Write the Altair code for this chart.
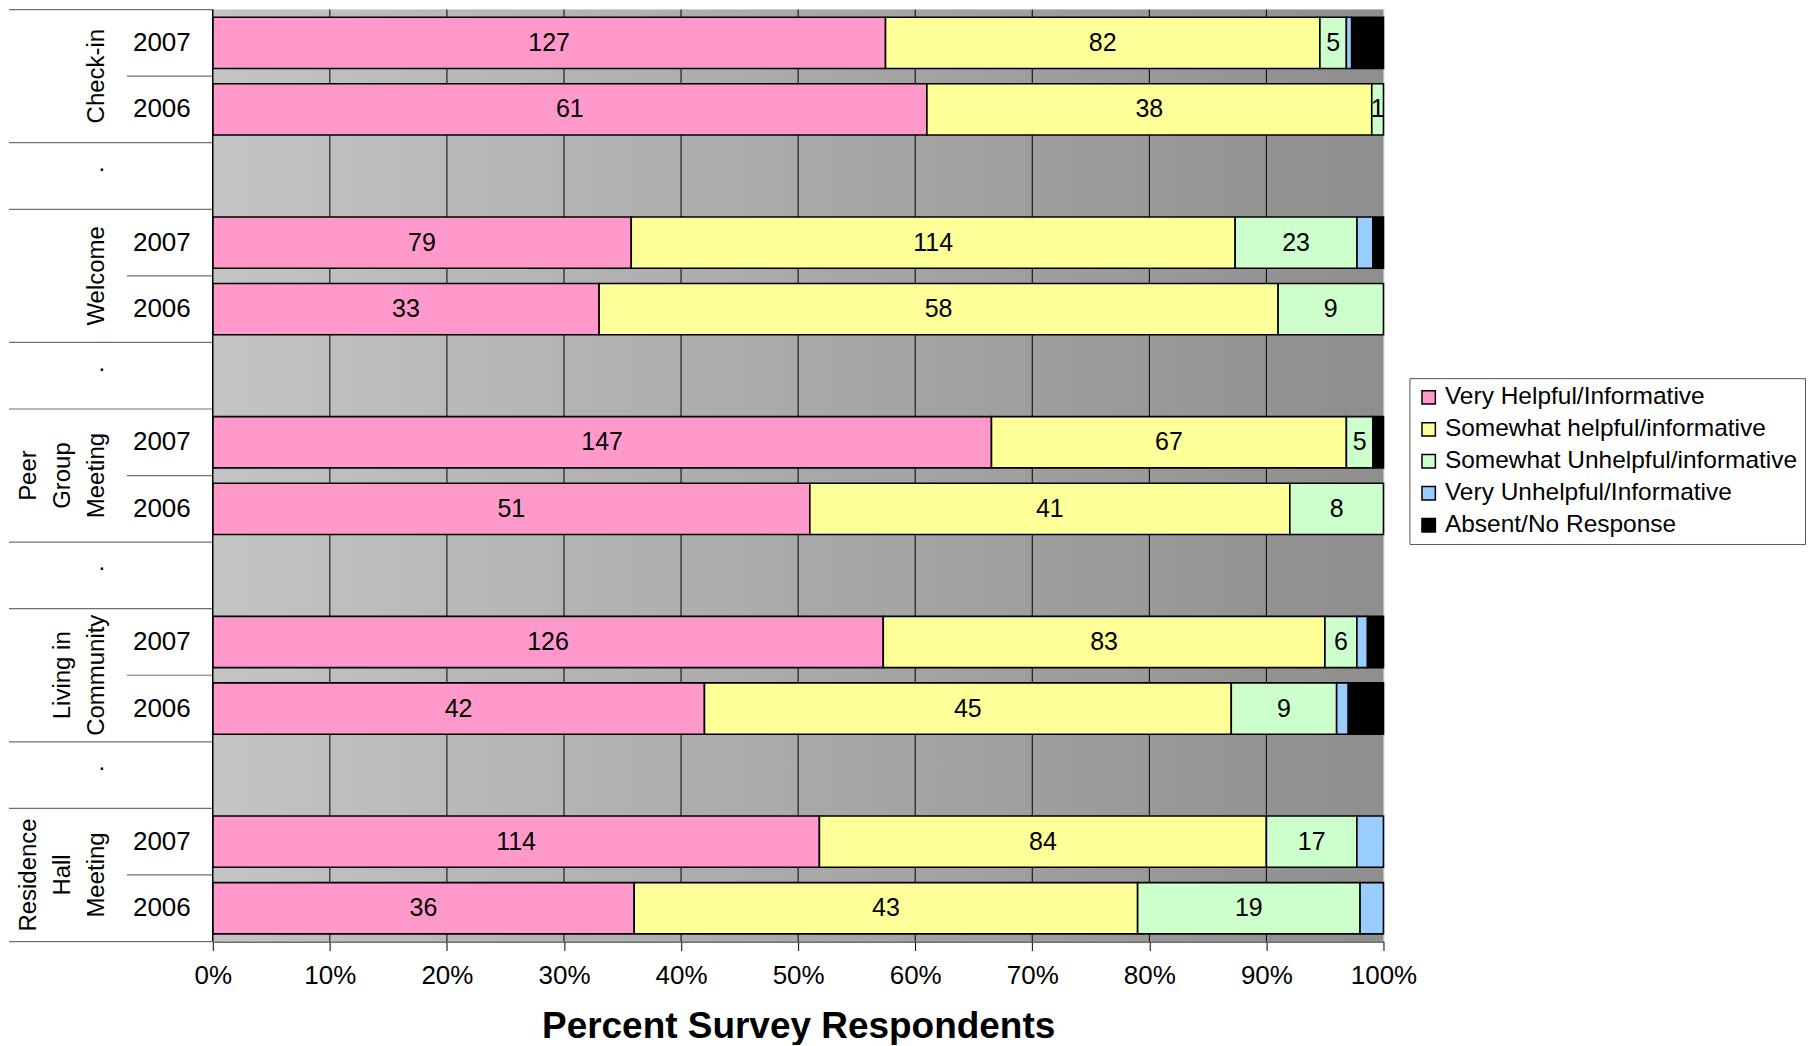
import altair as alt
import pandas as pd

# ---------------- data ----------------
groups = ["Check-in", "Welcome", "Peer Group Meeting", "Living in Community", "Residence Hall Meeting"]
group_labels = ["Check-in", "Welcome", "Peer\nGroup\nMeeting", "Living in\nCommunity", "Residence\nHall\nMeeting"]
years = ["2007", "2006"]
categories = ["Very Helpful/Informative", "Somewhat helpful/informative",
              "Somewhat Unhelpful/informative", "Very Unhelpful/Informative",
              "Absent/No Response"]
colors = ["#FF99CC", "#FFFF99", "#CCFFCC", "#99CCFF", "#000000"]

# order of rows: for each group 2007 then 2006
very_helpful     = [127, 61, 79, 33, 147, 51, 126, 42, 114, 36]
somewhat_helpful = [82, 38, 114, 58, 67, 41, 83, 45, 84, 43]
somewhat_unhelp  = [5, 1, 23, 9, 5, 8, 6, 9, 17, 19]
very_unhelp      = [1, 0, 3, 0, 0, 0, 2, 1, 5, 2]
absent           = [6, 0, 2, 0, 2, 0, 3, 3, 0, 0]
x_ticks = [0.0, 0.1, 0.2, 0.3, 0.4, 0.5, 0.6, 0.7, 0.8, 0.9, 1.0]
labelled_categories = 3  # values are printed for the first three categories

W, H = 1172, 933
FONT = "Liberation Sans"
LINE_H = 34

# ---------------- build tables ----------------
series = [very_helpful, somewhat_helpful, somewhat_unhelp, very_unhelp, absent]
row_order, bar_rows, year_rows, gap_rows, grp_rows = [], [], [], [], []
long_sep_top, short_sep_top = [], []
k = 0
for gi, g in enumerate(groups):
    for yi, yr in enumerate(years):
        rid = f"g{gi}-{yr}"
        row_order.append(rid)
        year_rows.append({"row": rid, "label": yr})
        if yi == 0:
            long_sep_top.append({"row": rid})
        else:
            short_sep_top.append({"row": rid})
            grp_rows.append({"row": rid, "label": group_labels[gi],
                             "nlines": group_labels[gi].count("\n") + 1})
        vals = [s[k] for s in series]
        total = sum(vals)
        cum = 0
        for ci, v in enumerate(vals):
            if v > 0:
                bar_rows.append({
                    "row": rid, "cat": categories[ci], "value": v,
                    "x0": cum / total, "x1": (cum + v) / total,
                    "mid": (cum + v / 2) / total,
                    "show": ci < labelled_categories,
                })
            cum += v
        k += 1
    if gi < len(groups) - 1:
        rid = f"gap{gi}"
        row_order.append(rid)
        gap_rows.append({"row": rid, "label": "."})
        long_sep_top.append({"row": rid})

bars_df = pd.DataFrame(bar_rows)
text_df = bars_df[bars_df["show"]].copy()
year_df = pd.DataFrame(year_rows)
gap_df = pd.DataFrame(gap_rows)
grp_df = pd.DataFrame(grp_rows)
long_df = pd.DataFrame(long_sep_top)
short_df = pd.DataFrame(short_sep_top)
bottom_df = pd.DataFrame([{"row": row_order[-1]}])
grid_df = pd.DataFrame({"tick": x_ticks[1:-1]})

yscale = alt.Scale(domain=row_order, paddingInner=0, paddingOuter=0)
xscale = alt.Scale(domain=[0, 1], nice=False, zero=False)
x_axis = alt.Axis(values=x_ticks, format=".0%", title="Percent Survey Respondents",
                  grid=False, labelFont=FONT, labelFontSize=26, labelColor="black",
                  labelPadding=12, tickSize=9, tickColor="black", tickWidth=1,
                  domainColor="#444444", domainWidth=1.5, labelOverlap=False,
                  labelFlush=False,
                  titleFont=FONT, titleFontSize=37, titleFontWeight="bold",
                  titleColor="black", titlePadding=20)

def Y(bp=None):
    if bp is None:
        return alt.Y("row:N", scale=yscale, axis=None)
    return alt.Y("row:N", scale=yscale, axis=None, bandPosition=bp)

def X(field):
    return alt.X(field, scale=xscale, axis=x_axis)

# ---------------- layers ----------------
background = alt.Chart(pd.DataFrame({"v": [0]})).mark_rect(
    fill=alt.LinearGradient(
        gradient="linear",
        stops=[alt.GradientStop(color="#c4c4c4", offset=0),
               alt.GradientStop(color="#8e8e8e", offset=1)],
        x1=0, x2=1, y1=0, y2=0),
).encode(x=alt.value(0), x2=alt.value(W), y=alt.value(0), y2=alt.value(H))

grid = alt.Chart(grid_df).mark_rule(color="black", strokeWidth=1).encode(
    x=X("tick:Q"), y=alt.value(0), y2=alt.value(H))

bars = alt.Chart(bars_df).mark_bar(
    stroke="black", strokeWidth=1.6, height={"band": 0.77}
).encode(
    x=X("x0:Q"),
    x2="x1:Q",
    y=Y(),
    color=alt.Color("cat:N", scale=alt.Scale(domain=categories, range=colors),
                    legend=alt.Legend(
                        title=None, orient="none", legendX=1198, legendY=369,
                        symbolType="square", symbolSize=180, symbolStrokeColor="black",
                        symbolStrokeWidth=1.5, labelFont=FONT, labelFontSize=24.5,
                        labelColor="black", labelLimit=600, rowPadding=7, padding=7,
                        labelOffset=4, strokeColor="#555555", fillColor="white")),
)

values = alt.Chart(text_df).mark_text(
    font=FONT, fontSize=25, color="black", baseline="middle", align="center"
).encode(x=X("mid:Q"), y=Y(), text="value:Q")

year_text = alt.Chart(year_df).mark_text(
    font=FONT, fontSize=26, color="black", baseline="middle", align="center"
).encode(x=alt.value(-51), y=Y(), text="label:N")

gap_text = alt.Chart(gap_df).mark_text(
    font=FONT, fontSize=24, color="black", baseline="bottom", align="center"
).encode(x=alt.value(-111), y=Y(), text="label:N")

grp_layers = []
for n in sorted(grp_df["nlines"].unique()):
    grp_layers.append(
        alt.Chart(grp_df).transform_filter(alt.datum.nlines == int(n)).mark_text(
            font=FONT, fontSize=24, color="black", angle=270, baseline="bottom",
            align="center", lineBreak="\n", lineHeight=LINE_H,
            dy=-(int(n) - 1) * LINE_H
        ).encode(x=alt.value(-104), y=Y(0), text="label:N")
    )

long_sep = alt.Chart(long_df).mark_rule(color="#707070", strokeWidth=1.2).encode(
    x=alt.value(-204), x2=alt.value(0), y=Y(0))
bottom_sep = alt.Chart(bottom_df).mark_rule(color="#707070", strokeWidth=1.2).encode(
    x=alt.value(-204), x2=alt.value(0), y=Y(1))
short_sep = alt.Chart(short_df).mark_rule(color="#707070", strokeWidth=1.2).encode(
    x=alt.value(-86), x2=alt.value(0), y=Y(0))

yaxis_line = alt.Chart(pd.DataFrame({"v": [0]})).mark_rule(color="black", strokeWidth=1.5).encode(
    x=alt.value(0), y=alt.value(0), y2=alt.value(H))

chart = alt.layer(
    background, grid, bars, values, year_text, gap_text, *grp_layers,
    long_sep, bottom_sep, short_sep, yaxis_line
).properties(
    width=W, height=H, padding=0
).configure_view(strokeWidth=0).configure(background="white")

chart.save("out.html", embed_options={"renderer": "svg", "actions": False})
